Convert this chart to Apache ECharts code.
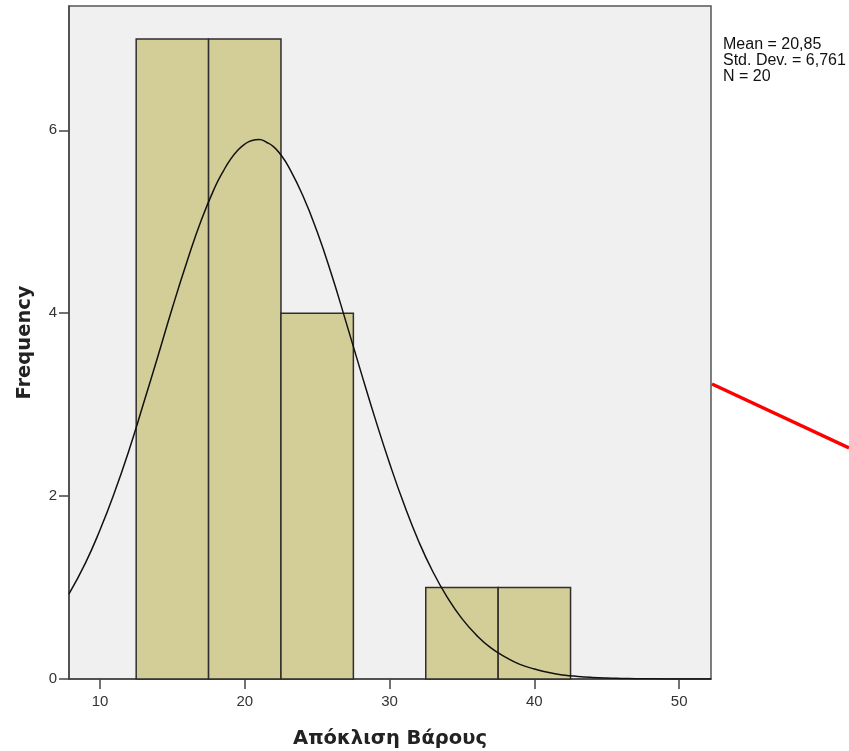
<!DOCTYPE html>
<html>
<head>
<meta charset="utf-8">
<script src="https://cdn.jsdelivr.net/npm/echarts@6/dist/echarts.min.js"></script>
<style>html,body{margin:0;padding:0;background:#fff}#c{width:849px;height:751px}</style>
</head>
<body>
<div id="c"></div>
<script>
// Histogram bins
var binStart = [12.5, 17.5, 22.5, 32.5, 37.5];
var binEnd   = [17.5, 22.5, 27.5, 37.5, 42.5];
var freq     = [7, 7, 4, 1, 1];
// Fitted normal curve
var curveX = [7.86, 9, 10, 11, 12, 13, 14, 15, 16, 17, 18, 18.5, 19, 19.5, 20, 20.5, 21, 21.5, 22, 22.5, 23, 24, 25, 26, 27, 28, 29, 30, 31, 32, 33, 34, 35, 36, 37, 38, 39, 40, 41, 42, 43, 44, 45, 46, 47, 48, 50, 52.2];
var curveY = [0.93, 1.27, 1.63, 2.04, 2.5, 3.01, 3.53, 4.06, 4.56, 5.02, 5.4, 5.55, 5.68, 5.78, 5.85, 5.89, 5.9, 5.87, 5.82, 5.73, 5.61, 5.29, 4.89, 4.42, 3.9, 3.37, 2.85, 2.36, 1.91, 1.51, 1.17, 0.89, 0.66, 0.48, 0.34, 0.24, 0.16, 0.11, 0.07, 0.044, 0.028, 0.017, 0.01, 0.006, 0.003, 0.002, 0.0005, 0.0001];
var xTicks = [10, 20, 30, 40, 50];
var yTicks = [0, 2, 4, 6];
var statsLines = ['Mean = 20,85', 'Std. Dev. = 6,761', 'N = 20'];

var chart = echarts.init(document.getElementById('c'), null, {renderer: 'canvas'});
var barData = binStart.map(function (s, i) { return [s, binEnd[i], freq[i]]; });
var curveData = curveX.map(function (x, i) { return [x, curveY[i]]; });

chart.setOption({
  animation: false,
  backgroundColor: '#ffffff',
  grid: {
    left: 69, top: 6, right: 138, bottom: 72,
    containLabel: false, outerBoundsMode: 'none',
    show: true, backgroundColor: '#f0f0f0', borderColor: '#555', borderWidth: 1.5
  },
  xAxis: {
    type: 'value', min: 7.86, max: 52.2,
    name: 'Απόκλιση Βάρους', nameLocation: 'middle', nameGap: 50,
    nameTextStyle: {fontFamily: 'DejaVu Sans', fontWeight: 'bold', fontSize: 19.5, color: '#222'},
    axisLine: {show: true, onZero: false, lineStyle: {color: '#444', width: 1.5}},
    axisTick: {show: true, customValues: xTicks, length: 10, lineStyle: {color: '#444', width: 1.5}},
    axisLabel: {customValues: xTicks, margin: 15, fontFamily: 'Liberation Sans', fontSize: 15, color: '#333'},
    splitLine: {show: false}
  },
  yAxis: {
    type: 'value', min: 0, max: 7.36,
    name: 'Frequency', nameLocation: 'middle', nameGap: 34, nameRotate: 90,
    nameTextStyle: {fontFamily: 'DejaVu Sans', fontWeight: 'bold', fontSize: 19.5, color: '#222'},
    axisLine: {show: true, lineStyle: {color: '#444', width: 1.5}},
    axisTick: {show: true, customValues: yTicks, length: 10, lineStyle: {color: '#444', width: 1.5}},
    axisLabel: {customValues: yTicks, margin: 12, fontFamily: 'Liberation Sans', fontSize: 15, color: '#333'},
    splitLine: {show: false}
  },
  series: [
    {
      type: 'custom',
      data: barData,
      encode: {x: [0, 1], y: 2},
      renderItem: function (params, api) {
        var p0 = api.coord([api.value(0), api.value(2)]);
        var p1 = api.coord([api.value(1), 0]);
        return {
          type: 'rect',
          shape: {x: p0[0], y: p0[1], width: p1[0] - p0[0], height: p1[1] - p0[1]},
          style: {fill: '#d3ce98', stroke: '#2e2e2e', lineWidth: 1.5}
        };
      },
      z: 2
    },
    {
      type: 'line',
      data: curveData,
      smooth: 0.5,
      showSymbol: false,
      symbol: 'none',
      lineStyle: {color: '#111', width: 1.5},
      z: 3
    }
  ],
  graphic: [
    {
      type: 'text', left: 723, top: 37,
      style: {text: statsLines.join('\n'), fontFamily: 'Liberation Sans', fontSize: 16, lineHeight: 16, fill: '#111'}
    },
    {
      type: 'line',
      shape: {x1: 712, y1: 384, x2: 849, y2: 448},
      style: {stroke: '#ff0000', lineWidth: 3.5}
    }
  ]
});
</script>
</body>
</html>
